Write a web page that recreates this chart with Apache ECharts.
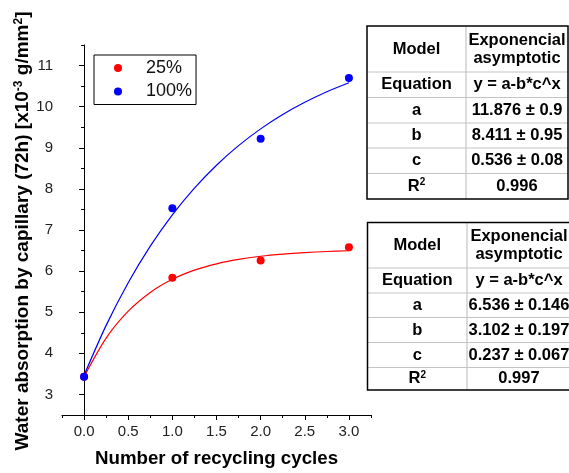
<!DOCTYPE html>
<html><head><meta charset="utf-8">
<script src="https://cdn.jsdelivr.net/npm/echarts@6/dist/echarts.min.js"></script>
<style>html,body{margin:0;padding:0;background:#fff}#c{width:569px;height:473px}</style>
</head><body><div id="c"></div>
<script>
// ---- data ----
const cycles = [0, 1, 2, 3];
const s25 = [3.43, 5.84, 6.26, 6.58];
const s100 = [3.43, 7.53, 9.22, 10.70];
// fitted curves
const fitX = [0, 0.25, 0.5, 0.75, 1, 1.25, 1.5, 1.75, 2, 2.25, 2.5, 2.75, 3];
const fit25 = [3.434, 4.372, 5.026, 5.482, 5.801, 6.023, 6.178, 6.286, 6.362, 6.414, 6.451, 6.477, 6.495];
const fit100 = [3.465, 4.680, 5.718, 6.607, 7.368, 8.018, 8.576, 9.052, 9.460, 9.809, 10.106, 10.362, 10.581];
const xLabels = [0, 0.5, 1, 1.5, 2, 2.5, 3];
const yLabels = [3, 4, 5, 6, 7, 8, 9, 10, 11];
const yTitleParts = ['Water absorption by capillary (72h) [x10', '-3', ' g/mm', '2', ']'];
const table1 = [['Model', 'Exponencial\nasymptotic'], ['Equation', 'y = a-b*c^x'], ['a', '11.876 ± 0.9'], ['b', '8.411 ± 0.95'], ['c', '0.536 ± 0.08'], ['R2', '0.996']];
const table2 = [['Model', 'Exponencial\nasymptotic'], ['Equation', 'y = a-b*c^x'], ['a', '6.536 ± 0.146'], ['b', '3.102 ± 0.197'], ['c', '0.237 ± 0.067'], ['R2', '0.997']];

const zip = (xs, ys) => xs.map((x, i) => [x, ys[i]]);
const FONT = '"Liberation Sans", Arial, sans-serif';

function tableGraphics(rows, x0, x1, x2, ys) {
  const g = [];
  const gray = '#c4c4c4';
  for (let i = 1; i < ys.length - 1; i++) {
    g.push({type: 'line', shape: {x1: x0, y1: ys[i], x2: x2, y2: ys[i]}, style: {stroke: gray, lineWidth: 1.2}, z: 10});
  }
  g.push({type: 'line', shape: {x1: x1, y1: ys[0], x2: x1, y2: ys[ys.length - 1]}, style: {stroke: gray, lineWidth: 1.2}, z: 10});
  g.push({type: 'rect', shape: {x: x0, y: ys[0], width: x2 - x0, height: ys[ys.length - 1] - ys[0]}, style: {fill: 'none', stroke: '#000', lineWidth: 1.5}, z: 11});
  rows.forEach((r, i) => {
    const cy = (ys[i] + ys[i + 1]) / 2;
    const rich = {b: {fontFamily: FONT, fontWeight: 'bold', fontSize: 16.5, fill: '#000', lineHeight: 18},
                  s: {fontFamily: FONT, fontWeight: 'bold', fontSize: 10, fill: '#000', verticalAlign: 'top', lineHeight: 12}};
    const t0 = r[0] === 'R2' ? '{b|R}{s|2}' : '{b|' + r[0] + '}';
    const t1 = r[1].split('\n').map(s => '{b|' + s + '}').join('\n');
    g.push({type: 'text', x: (x0 + x1) / 2, y: cy, style: {text: t0, rich: rich, align: 'center', verticalAlign: 'middle'}, z: 12});
    g.push({type: 'text', x: (x1 + x2) / 2, y: cy, style: {text: t1, rich: rich, align: 'center', verticalAlign: 'middle'}, z: 12});
  });
  return g;
}

const yTitle = {
  type: 'text', x: 23, y: 231, rotation: Math.PI / 2, z: 12,
  style: {
    text: yTitleParts.map((p, i) => (i % 2 ? '{s|' : '{b|') + p + '}').join(''),
    align: 'center', verticalAlign: 'middle',
    font: 'bold 19px ' + FONT, fill: '#000',
    rich: {
      b: {fontFamily: FONT, fontWeight: 'bold', fontSize: 19, fill: '#000', lineHeight: 21},
      s: {fontFamily: FONT, fontWeight: 'bold', fontSize: 12, fill: '#000', verticalAlign: 'top', lineHeight: 12}
    }
  }
};

const chart = echarts.init(document.getElementById('c'), null, {renderer: 'canvas'});
const axisLabelStyle = {color: '#222', fontSize: 15, fontFamily: FONT};
chart.setOption({
  animation: false,
  backgroundColor: '#fff',
  textStyle: {fontFamily: FONT},
  grid: {left: 62, top: 45, width: 309, height: 371, containLabel: false},
  legend: {
    orient: 'vertical', left: 94, top: 55,
    data: [{name: '25%', icon: 'circle'}, {name: '100%', icon: 'circle'}],
    itemWidth: 8, itemHeight: 8, itemGap: 5.5,
    padding: [4, 4, 4, 20],
    borderColor: '#000', borderWidth: 1,
    itemStyle: {opacity: 1},
    textStyle: {fontSize: 18, color: '#111', fontFamily: FONT, lineHeight: 18, padding: [0, 0, 0, 19]}
  },
  xAxis: [{
    type: 'value', min: -0.25, max: 3.25, interval: 0.25,
    axisLine: {lineStyle: {color: '#000', width: 1}},
    axisTick: {length: 3, lineStyle: {color: '#000'}},
    axisLabel: {show: false}, splitLine: {show: false},
    name: 'Number of recycling cycles', nameLocation: 'middle', nameGap: 34,
    nameTextStyle: {fontSize: 18.7, fontWeight: 'bold', color: '#000', fontFamily: FONT}
  }, {
    type: 'value', min: -0.25, max: 3.25, position: 'bottom',
    axisLine: {show: false},
    axisTick: {show: true, length: 5, customValues: xLabels, lineStyle: {color: '#000'}},
    axisLabel: Object.assign({customValues: xLabels, margin: 9, formatter: v => v.toFixed(1)}, axisLabelStyle),
    splitLine: {show: false}
  }],
  yAxis: [{
    type: 'value', min: 2.5, max: 11.5, interval: 0.5,
    axisLine: {show: true, lineStyle: {color: '#000', width: 1}},
    axisTick: {show: true, length: 3, lineStyle: {color: '#000'}},
    axisLabel: {show: false}, splitLine: {show: false}
  }, {
    type: 'value', min: 2.5, max: 11.5, position: 'left',
    axisLine: {show: false},
    axisTick: {show: true, length: 5, customValues: yLabels, lineStyle: {color: '#000'}},
    axisLabel: Object.assign({customValues: yLabels, margin: 9}, axisLabelStyle),
    splitLine: {show: false}
  }],
  series: [
    {type: 'line', name: 'fit25', data: zip(fitX, fit25), smooth: 0.3, showSymbol: false, lineStyle: {color: '#ff0000', width: 1.2}, z: 2},
    {type: 'line', name: 'fit100', data: zip(fitX, fit100), smooth: 0.3, showSymbol: false, lineStyle: {color: '#0000ff', width: 1.2}, z: 2},
    {type: 'scatter', name: '25%', data: zip(cycles, s25), symbol: 'circle', symbolSize: 8, itemStyle: {color: '#ff0000', opacity: 1}, z: 3},
    {type: 'scatter', name: '100%', data: zip(cycles, s100), symbol: 'circle', symbolSize: 8, itemStyle: {color: '#0000ff', opacity: 1}, z: 4}
  ],
  graphic: tableGraphics(table1, 367, 466, 568, [26, 72, 97.5, 123, 148, 173.5, 199])
    .concat(tableGraphics(table2, 367.5, 467, 571, [222.5, 268, 293, 317.5, 342.5, 367.5, 390]))
    .concat([yTitle])
});
</script></body></html>
